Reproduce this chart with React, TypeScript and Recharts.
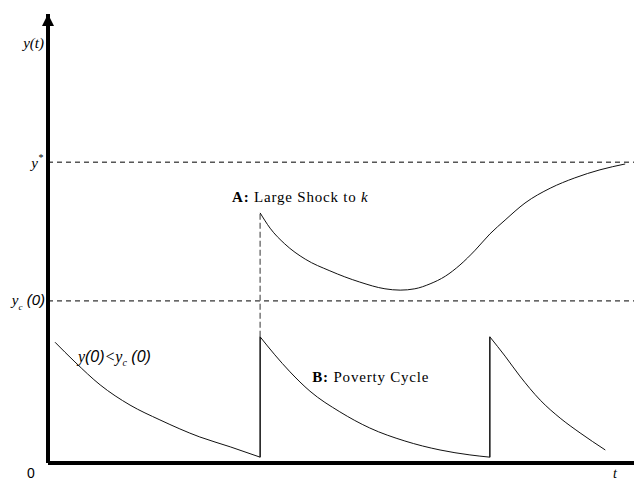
import { LineChart, Line, XAxis, YAxis, ReferenceLine, ReferenceDot } from 'recharts';

// steady state and critical income levels
const yStar = 6.7;
const yCrit = 3.61;

// poverty cycle: three decaying stretches between shocks
const cycleOneT = [0.12, 0.46, 0.89, 1.4, 1.91, 2.59, 3.11, 3.62];
const cycleOneY = [2.69, 2.25, 1.74, 1.29, 0.96, 0.58, 0.36, 0.13];

const cycleTwoT = [3.62, 3.87, 4.13, 4.47, 4.98, 5.49, 6.09, 6.69, 7.2, 7.54];
const cycleTwoY = [2.81, 2.41, 2.03, 1.6, 1.14, 0.78, 0.49, 0.29, 0.18, 0.13];

const cycleThreeT = [7.54, 7.8, 8.05, 8.4, 8.74, 9.08, 9.51];
const cycleThreeY = [2.81, 2.38, 1.94, 1.4, 1.0, 0.67, 0.29];

// large shock: dips then climbs toward y*
const shockT = [3.62, 3.79, 4.04, 4.39, 4.81, 5.32, 5.75, 6.01, 6.26, 6.52, 6.78, 7.03, 7.29, 7.54, 7.8, 8.14, 8.57, 8.99, 9.42, 9.85];
const shockY = [5.57, 5.23, 4.88, 4.54, 4.28, 4.03, 3.88, 3.85, 3.88, 3.99, 4.16, 4.41, 4.74, 5.1, 5.41, 5.79, 6.12, 6.35, 6.53, 6.66];

const shockTimes = [3.62, 7.54];
const jumpLow = [0.13, 0.13];
const jumpHigh = [2.81, 2.81];

const toPoints = (ts: number[], ys: number[]) => ts.map((t, i) => ({ t, y: ys[i] }));

const serif = '"Liberation Serif", "DejaVu Serif", serif';
const sans = '"Liberation Sans", Arial, sans-serif';

const arrowHead = (p: any) => (
  <polygon
    points={`${p.cx},${p.cy} ${p.cx - 6},${p.cy + 12} ${p.cx + 6},${p.cy + 12}`}
    fill="#000"
  />
);

export default function App() {
  return (
    <div style={{ position: 'absolute', left: 0, top: 0, background: '#fff' }}>
      <LineChart width={634} height={481} margin={{ top: 14, right: 0, bottom: 18, left: 48 }}>
        <XAxis dataKey="t" type="number" domain={[0, 10]} hide allowDuplicatedCategory={false} />
        <YAxis type="number" domain={[0, 10]} hide />

        <ReferenceLine y={yStar} stroke="#000" strokeDasharray="5 4" />
        <ReferenceLine y={yCrit} stroke="#000" strokeDasharray="5 4" />
        <ReferenceLine
          segment={[{ x: shockTimes[0], y: jumpHigh[0] }, { x: shockTimes[0], y: shockY[0] }]}
          stroke="#777"
          strokeWidth={1.5}
          strokeDasharray="6 3"
        />

        <Line data={toPoints(cycleOneT, cycleOneY)} dataKey="y" type="monotone" stroke="#111" strokeWidth={1} dot={false} isAnimationActive={false} />
        <Line data={toPoints(cycleTwoT, cycleTwoY)} dataKey="y" type="monotone" stroke="#111" strokeWidth={1} dot={false} isAnimationActive={false} />
        <Line data={toPoints(cycleThreeT, cycleThreeY)} dataKey="y" type="monotone" stroke="#111" strokeWidth={1} dot={false} isAnimationActive={false} />
        <Line data={toPoints(shockT, shockY)} dataKey="y" type="monotone" stroke="#111" strokeWidth={1} dot={false} isAnimationActive={false} />
        {shockTimes.map((t, i) => (
          <Line
            key={i}
            data={[{ t, y: jumpLow[i] }, { t, y: jumpHigh[i] }]}
            dataKey="y"
            type="linear"
            stroke="#111"
            strokeWidth={1.5}
            dot={false}
            isAnimationActive={false}
          />
        ))}

        {/* axes */}
        <ReferenceLine y={0} stroke="#000" strokeWidth={4} />
        <ReferenceLine x={0} stroke="#000" strokeWidth={4} />
        <ReferenceDot x={0} y={10} r={0} shape={arrowHead} />

        <ReferenceDot x={0} y={10} r={0} shape={(p: any) => (
          <text x={p.cx - 4} y={p.cy + 34} textAnchor="end" fontFamily={serif} fontStyle="italic" fontSize={15}>y(t)</text>
        )} />
        <ReferenceDot x={0} y={yStar} r={0} shape={(p: any) => (
          <text x={p.cx - 5} y={p.cy + 6} textAnchor="end" fontFamily={serif} fontStyle="italic" fontSize={15}>
            y<tspan dy={-7} fontSize={10}>*</tspan>
          </text>
        )} />
        <ReferenceDot x={0} y={yCrit} r={0} shape={(p: any) => (
          <text x={p.cx - 3} y={p.cy + 4} textAnchor="end" fontStyle="italic" fontSize={15}>
            <tspan fontFamily={serif}>y</tspan>
            <tspan fontFamily={serif} fontSize={9} dy={5}>c</tspan>
            <tspan fontFamily={sans} dy={-5}> (0)</tspan>
          </text>
        )} />
        <ReferenceDot x={0} y={0} r={0} shape={(p: any) => (
          <text x={p.cx - 21} y={p.cy + 15} fontFamily={sans} fontSize={14}>0</text>
        )} />
        <ReferenceDot x={9.64} y={0} r={0} shape={(p: any) => (
          <text x={p.cx} y={p.cy + 15} fontFamily={serif} fontStyle="italic" fontSize={14}>t</text>
        )} />
        <ReferenceDot x={0.51} y={2.25} r={0} shape={(p: any) => (
          <text x={p.cx} y={p.cy} fontStyle="italic" fontSize={16}>
            <tspan fontFamily={serif}>y</tspan>
            <tspan fontFamily={sans}>(0)</tspan>
            <tspan fontFamily={serif}>&lt;y</tspan>
            <tspan fontFamily={serif} fontSize={10} dy={4}>c</tspan>
            <tspan fontFamily={sans} dy={-4}> (0)</tspan>
          </text>
        )} />
        <ReferenceDot x={3.14} y={5.81} r={0} shape={(p: any) => (
          <text x={p.cx} y={p.cy} fontFamily={serif} fontSize={15} letterSpacing={0.8}>
            <tspan fontWeight="bold">A:</tspan> Large Shock to <tspan fontStyle="italic">k</tspan>
          </text>
        )} />
        <ReferenceDot x={4.51} y={1.8} r={0} shape={(p: any) => (
          <text x={p.cx} y={p.cy} fontFamily={serif} fontSize={15} letterSpacing={0.8}>
            <tspan fontWeight="bold">B:</tspan> Poverty Cycle
          </text>
        )} />
      </LineChart>
    </div>
  );
}
